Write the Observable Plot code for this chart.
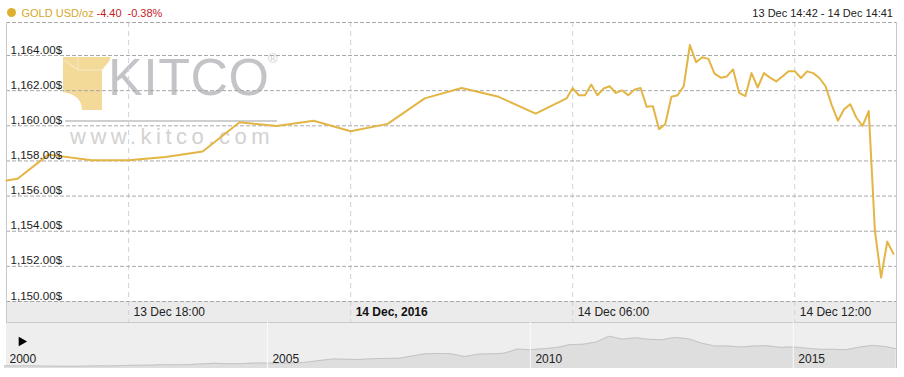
<!DOCTYPE html>
<html>
<head>
<meta charset="utf-8">
<script src="https://cdn.jsdelivr.net/npm/d3@7"></script>
<script src="https://cdn.jsdelivr.net/npm/@observablehq/plot@0.6"></script>
<style>
  html, body { margin: 0; padding: 0; background: #fff; }
  #wrap { position: relative; width: 904px; height: 377px; overflow: hidden; font-family: "Liberation Sans", Arial, sans-serif; }
  .abs { position: absolute; white-space: nowrap; }
</style>
</head>
<body>
<div id="wrap">
  <!-- header -->
  <div class="abs" style="left:7px;top:8px;width:9px;height:9px;border-radius:50%;background:#dfb030;"></div>
  <div class="abs" style="left:21.5px;top:6px;font-size:11px;line-height:14px;color:#d6a72c;">GOLD USD/oz</div>
  <div class="abs" style="left:96.5px;top:6px;font-size:11px;line-height:14px;color:#c8201f;">-4.40</div>
  <div class="abs" style="left:127.5px;top:6px;font-size:11px;line-height:14px;color:#c8201f;">-0.38%</div>
  <div class="abs" style="right:11px;top:6px;font-size:11px;line-height:14px;color:#222;">13 Dec 14:42 - 14 Dec 14:41</div>

  <!-- x axis band and navigator background -->
  <div class="abs" style="left:6px;top:301px;width:890px;height:21px;background:#ebebeb;"></div>
  <div class="abs" style="left:6px;top:322px;width:890px;height:45px;background:#eeeeee;border-top:1px solid #c9c9c9;border-right:1px solid #c4c4c4;"></div>

  <!-- watermark -->
  <svg class="abs" style="left:63px;top:57px;" width="48" height="53" viewBox="0 0 48 53">
    <path d="M0,0 H47 V3 L39,13 V53 H19 Q19,38 0,35 Z" fill="#f3da98"/>
    <path d="M15,0 V13 H39 M15,13 L1,3" stroke="#f8e8bf" stroke-width="1.2" fill="none"/>
  </svg>
  <div class="abs" style="left:108px;top:51px;font-size:52px;line-height:52px;color:#c4c4c8;letter-spacing:0.5px;">KITCO</div>
  <div class="abs" style="left:268px;top:52px;font-size:13px;line-height:13px;color:#cfcfcf;">®</div>
  <div class="abs" style="left:65px;top:120px;width:212px;height:2px;background:#cfcfcf;"></div>
  <div class="abs" style="left:70px;top:126px;font-size:22px;line-height:22px;color:#d2d2d2;letter-spacing:4.5px;">www.kitco.com</div>

  <div id="chart" class="abs" style="left:0;top:21px;"></div>
  <div id="nav" class="abs" style="left:0;top:322px;"></div>
</div>
<script>
// ---------- main series (UTC) ----------
const times = [
  "2016-12-13T14:42Z","2016-12-13T15:00Z","2016-12-13T15:50Z","2016-12-13T17:00Z",
  "2016-12-13T18:00Z","2016-12-13T19:00Z","2016-12-13T20:00Z","2016-12-13T21:00Z",
  "2016-12-13T22:00Z","2016-12-13T23:00Z","2016-12-14T00:00Z","2016-12-14T01:00Z",
  "2016-12-14T02:00Z","2016-12-14T03:00Z","2016-12-14T04:00Z","2016-12-14T05:00Z",
  "2016-12-14T05:50Z","2016-12-14T06:00Z","2016-12-14T06:10Z","2016-12-14T06:20Z",
  "2016-12-14T06:30Z","2016-12-14T06:40Z","2016-12-14T06:50Z","2016-12-14T07:00Z",
  "2016-12-14T07:10Z","2016-12-14T07:20Z","2016-12-14T07:30Z","2016-12-14T07:40Z",
  "2016-12-14T07:50Z","2016-12-14T08:00Z","2016-12-14T08:10Z","2016-12-14T08:20Z",
  "2016-12-14T08:30Z","2016-12-14T08:40Z","2016-12-14T08:50Z","2016-12-14T09:00Z",
  "2016-12-14T09:10Z","2016-12-14T09:20Z","2016-12-14T09:30Z","2016-12-14T09:40Z",
  "2016-12-14T09:50Z","2016-12-14T10:00Z","2016-12-14T10:10Z","2016-12-14T10:20Z",
  "2016-12-14T10:30Z","2016-12-14T10:40Z","2016-12-14T10:50Z","2016-12-14T11:00Z",
  "2016-12-14T11:10Z","2016-12-14T11:20Z","2016-12-14T11:30Z","2016-12-14T11:40Z",
  "2016-12-14T11:50Z","2016-12-14T12:00Z","2016-12-14T12:10Z","2016-12-14T12:20Z",
  "2016-12-14T12:30Z","2016-12-14T12:40Z","2016-12-14T12:50Z","2016-12-14T13:00Z",
  "2016-12-14T13:10Z","2016-12-14T13:20Z","2016-12-14T13:30Z","2016-12-14T13:40Z",
  "2016-12-14T13:50Z","2016-12-14T14:00Z","2016-12-14T14:10Z","2016-12-14T14:20Z",
  "2016-12-14T14:30Z","2016-12-14T14:40Z"
];
const prices = [
  1156.89, 1156.99, 1158.36, 1158.04,
  1158.04, 1158.23, 1158.54, 1160.20,
  1159.99, 1160.29, 1159.69, 1160.11,
  1161.56, 1162.15, 1161.65, 1160.69,
  1161.56, 1162.15, 1161.74, 1161.74,
  1162.35, 1161.74, 1162.12, 1162.25,
  1161.87, 1162.02, 1161.74, 1162.06,
  1162.15, 1161.08, 1161.12, 1159.81,
  1160.09, 1161.65, 1161.74, 1162.25,
  1164.60, 1163.62, 1163.90, 1163.81,
  1162.97, 1162.74, 1162.81, 1163.21,
  1161.87, 1161.69, 1163.00, 1162.18,
  1163.00, 1162.74, 1162.53, 1162.81,
  1163.11, 1163.11, 1162.72, 1163.10,
  1163.00, 1162.72, 1162.25, 1161.18,
  1160.29, 1160.94, 1161.23, 1160.46,
  1159.99, 1160.84, 1154.03, 1151.36,
  1153.41, 1152.71
];
const yTicks = [1150, 1152, 1154, 1156, 1158, 1160, 1162, 1164];
const yTop = 1165.88;
const xStart = "2016-12-13T14:42Z";
const xEnd = "2016-12-14T14:45Z";
const xTickTimes = ["2016-12-13T18:00Z", "2016-12-14T00:00Z", "2016-12-14T06:00Z", "2016-12-14T12:00Z"];
const xTickLabels = ["13 Dec 18:00", "14 Dec, 2016", "14 Dec 06:00", "14 Dec 12:00"];
const xTickBold = [false, true, false, false];

// ---------- navigator (long-term history) ----------
const navYears = [
  2000, 2000.25, 2000.5, 2000.75, 2001, 2001.25, 2001.5, 2001.75,
  2002, 2002.25, 2002.5, 2002.75, 2003, 2003.25, 2003.5, 2003.75,
  2004, 2004.25, 2004.5, 2004.75, 2005, 2005.25, 2005.5, 2005.75,
  2006, 2006.25, 2006.5, 2006.75, 2007, 2007.25, 2007.5, 2007.75,
  2008, 2008.25, 2008.5, 2008.75, 2009, 2009.25, 2009.5, 2009.75,
  2010, 2010.25, 2010.5, 2010.75, 2011, 2011.25, 2011.5, 2011.75,
  2012, 2012.25, 2012.5, 2012.75, 2013, 2013.25, 2013.5, 2013.75,
  2014, 2014.25, 2014.5, 2014.75, 2015, 2015.25, 2015.5, 2015.75,
  2016, 2016.25, 2016.5, 2016.75, 2016.95
];
const navPrices = [
  290, 280, 290, 270, 268, 260, 270, 285,
  280, 302, 315, 318, 345, 335, 350, 385,
  415, 390, 395, 430, 425, 425, 430, 475,
  560, 640, 620, 610, 650, 665, 670, 790,
  900, 920, 900, 760, 880, 900, 930, 1140,
  1110, 1160, 1220, 1370, 1390, 1500, 1800, 1650,
  1720, 1640, 1620, 1740, 1670, 1450, 1300, 1300,
  1250, 1300, 1310, 1230, 1250, 1190, 1130, 1130,
  1110, 1240, 1330, 1270, 1160
];
const navYearTicks = [2000, 2005, 2010, 2015];

const font = "'Liberation Sans', Arial, sans-serif";
const fmt = d => d3.format(",.2f")(d) + "$";
const series = times.map((t, i) => ({time: new Date(t), price: prices[i]}));
const xs = new Date(xStart), xe = new Date(xEnd);
const ticks = xTickTimes.map((t, i) => ({time: new Date(t), label: xTickLabels[i], bold: xTickBold[i]}));

const chart = Plot.plot({
  width: 904, height: 301,
  marginTop: 1, marginBottom: 21, marginLeft: 6, marginRight: 8,
  style: {background: "transparent", fontFamily: font, overflow: "visible"},
  x: {type: "utc", domain: [xs, xe], axis: null},
  y: {domain: [1150, yTop], axis: null},
  marks: [
    Plot.ruleX(ticks, {x: "time", stroke: "#d0d0e6", strokeDasharray: "5,4", insetBottom: -21}),
    Plot.ruleY(yTicks.concat([yTop]), {stroke: "#a8a8a8", strokeDasharray: "4,2"}),
    Plot.ruleX([xs, xe], {stroke: "#c8c8c8", insetBottom: -21}),
    Plot.line(series, {x: "time", y: "price", stroke: "#e3b544", strokeWidth: 2, strokeLinejoin: "round"}),
    Plot.text(yTicks, {y: d => d, frameAnchor: "left", dx: 4, dy: -2, lineAnchor: "bottom", textAnchor: "start",
      text: d => fmt(d), fontSize: 11.6, fill: "#1a1a1a"}),
    Plot.text(ticks.filter(d => !d.bold), {x: "time", frameAnchor: "bottom", dx: 5, dy: 11, lineAnchor: "middle",
      textAnchor: "start", text: "label", fontSize: 12, fill: "#222"}),
    Plot.text(ticks.filter(d => d.bold), {x: "time", frameAnchor: "bottom", dx: 5, dy: 11, lineAnchor: "middle",
      textAnchor: "start", text: "label", fontSize: 12, fontWeight: "bold", fill: "#111"})
  ]
});
document.getElementById("chart").appendChild(chart);

const nav = navYears.map((y, i) => ({year: y, price: navPrices[i]}));
const navChart = Plot.plot({
  width: 904, height: 46,
  marginTop: 0, marginBottom: 0, marginLeft: 4, marginRight: 6,
  style: {background: "transparent", fontFamily: font, overflow: "visible"},
  x: {domain: [2000, 2017], axis: null},
  y: {domain: [150, 2500], axis: null},
  marks: [
    Plot.areaY(nav, {x: "year", y1: 150, y2: "price", fill: "#dedede"}),
    Plot.lineY(nav, {x: "year", y: "price", stroke: "#c4c4c4", strokeWidth: 1}),
    Plot.ruleX(navYearTicks.slice(1), {stroke: "#fafafa", strokeWidth: 1}),
    Plot.text(navYearTicks, {x: d => d, frameAnchor: "bottom", dx: 5, dy: -9, lineAnchor: "middle",
      textAnchor: "start", text: d => String(d), fontSize: 12, fill: "#222"}),
    Plot.dot([navYearTicks[0]], {x: d => d, frameAnchor: "top", dx: 17, dy: 19, symbol: "triangle",
      r: 3.6, fill: "#000", stroke: null, rotate: 90})
  ]
});
document.getElementById("nav").appendChild(navChart);
</script>
</body>
</html>
